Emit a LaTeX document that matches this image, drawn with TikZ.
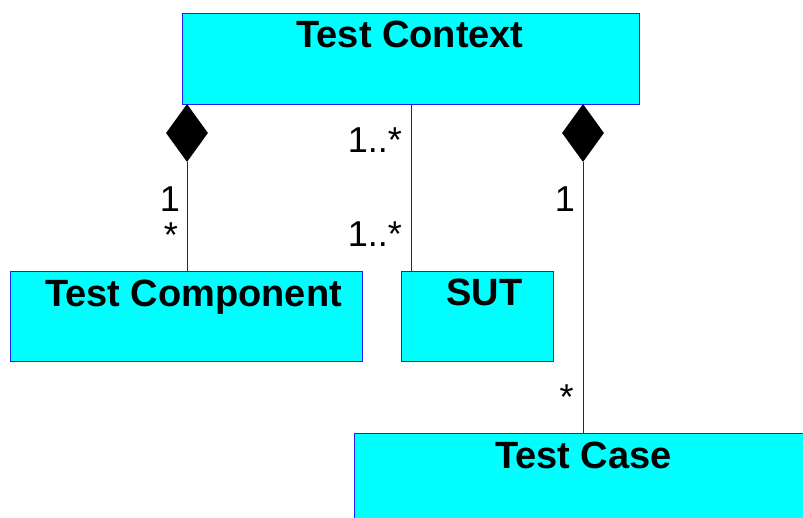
\documentclass[tikz,border=0pt]{standalone}
\usepackage{fontspec}
\setmainfont{Liberation Sans}
\usetikzlibrary{shapes.geometric}
\definecolor{boxfill}{RGB}{0,255,255}
\definecolor{boxline}{RGB}{30,30,255}
\definecolor{linkline}{RGB}{40,40,40}
\tikzset{
  classbox/.style={draw=boxline, line width=1.3pt, fill=boxfill, rectangle, inner sep=0pt, anchor=north west},
  classname/.style={anchor=base, inner sep=0pt, font=\fontsize{38}{42}\selectfont\bfseries},
  mult/.style={inner sep=0pt, font=\fontsize{36}{40}\selectfont},
  comp/.style={diamond, fill=black, draw=none, inner sep=0pt, minimum width=42pt, minimum height=58pt},
  link/.style={draw=linkline, line width=1pt}
}
\begin{document}
\begin{tikzpicture}[x=1pt, y=-1pt]
  \useasboundingbox (0,0) rectangle (803,518);

  % classes
  \node[classbox, minimum width=457pt, minimum height=91pt] (ctx) at (182,13) {};
  \node[classbox, minimum width=352pt, minimum height=90pt] (tcomp) at (10,271) {};
  \node[classbox, minimum width=152pt, minimum height=90pt] (sut) at (401,271) {};
  \node[classbox, minimum width=458pt, minimum height=100pt] (tcase) at (354,433) {};

  \node[classname] (ctxname) at (410,48) {Test Context};
  \node[classname] (tcompname) at (193.5,307) {Test Component};
  \node[classname] (sutname) at (484.5,306) {SUT};
  \node[classname] (tcasename) at (583.5,468) {Test Case};

  % composition diamonds
  \node[comp] (d1) at (187,133) {};
  \node[comp] (d2) at (583,133) {};
  \coordinate (mid) at (411.5,0);

  % associations
  \draw[link] (d1.south) -- (tcomp.north -| d1.south);
  \draw[link] (ctx.south -| mid) -- (sut.north -| mid);
  \draw[link] (d2.south) -- (tcase.north -| d2.south);

  % multiplicities
  \node[mult, anchor=base] (m1) at (170,212) {1};
  \node[mult, anchor=base] (m2) at (171,248) {*};
  \node[mult, anchor=base east] (m3) at (402,153) {1..*};
  \node[mult, anchor=base east] (m4) at (402,247) {1..*};
  \node[mult, anchor=base] (m5) at (565,212) {1};
  \node[mult, anchor=base] (m6) at (566.5,409) {*};
\end{tikzpicture}
\end{document}
